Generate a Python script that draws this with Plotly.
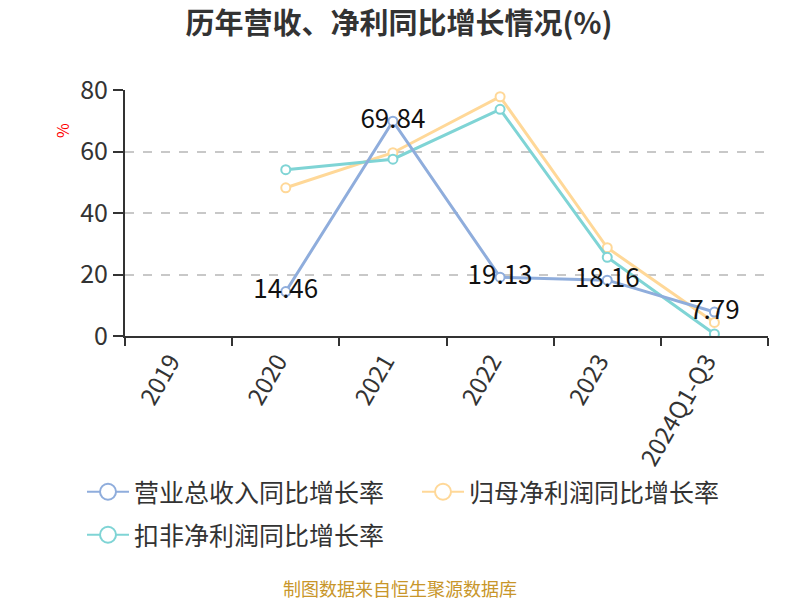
import plotly.graph_objects as go

categories = ["2019", "2020", "2021", "2022", "2023", "2024Q1-Q3"]
revenue = [None, 14.46, 69.84, 19.13, 18.16, 7.79]
net_profit = [None, 48.2, 59.6, 77.8, 28.7, 4.4]
deducted = [None, 54.1, 57.5, 73.7, 25.6, 0.65]
names = ["营业总收入同比增长率", "归母净利润同比增长率", "扣非净利润同比增长率"]
colors = ["#8FADDC", "#FFD898", "#7FD4D5"]

FONT = "Noto Sans CJK SC"
L, R, T, B = 125, 32, 90, 264
W, H = 800, 600
pw, ph = W - L - R, H - T - B


def px_x(x):
    return (x - L) / pw


def px_y(y):
    return (H - B - y) / ph


fig = go.Figure()

specs = [
    (names[1], net_profit, colors[1], False),
    (names[2], deducted, colors[2], False),
    (names[0], revenue, colors[0], True),
]
for name, vals, col, labels in specs:
    fig.add_trace(go.Scatter(
        x=categories, y=vals, name=name, showlegend=False,
        mode="lines+markers+text" if labels else "lines+markers",
        text=[("%.2f" % v) if v is not None else "" for v in vals] if labels else None,
        textposition="middle center",
        textfont=dict(size=26, color="#111", family=FONT),
        line=dict(color=col, width=3),
        marker=dict(size=9, color="white", line=dict(color=col, width=2)),
    ))

# legend-only entries with larger open circles
for name, col, leg, rank in [(names[0], colors[0], "legend", 1),
                             (names[1], colors[1], "legend", 2),
                             (names[2], colors[2], "legend2", 3)]:
    fig.add_trace(go.Scatter(
        x=[None], y=[None], name=name, mode="lines+markers",
        line=dict(color=col, width=2),
        marker=dict(size=20, color="white", line=dict(color=col, width=2)),
        legend=leg, legendrank=rank,
    ))

legfont = dict(size=25, color="#333", family=FONT)
fig.update_layout(
    width=W, height=H,
    margin=dict(l=L, r=R, t=T, b=B),
    paper_bgcolor="white", plot_bgcolor="white",
    font=dict(family=FONT, color="#333"),
    title=dict(text="<b>历年营收、净利同比增长情况(%)</b>", x=px_x(399), xanchor="center",
               xref="paper", y=1 - 24 / H, yanchor="middle",
               font=dict(size=29, color="#333", family=FONT)),
    showlegend=True,
    legend=dict(orientation="h", x=px_x(82), xanchor="left", y=px_y(492), yanchor="middle",
                font=legfont, entrywidth=278, itemwidth=42, bgcolor="rgba(0,0,0,0)"),
    legend2=dict(orientation="h", x=px_x(82), xanchor="left", y=px_y(535), yanchor="middle",
                 font=legfont, entrywidth=278, itemwidth=42, bgcolor="rgba(0,0,0,0)"),
    xaxis=dict(type="category", categoryorder="array", categoryarray=categories,
               range=[-0.5, 5.5], tickson="boundaries", ticks="outside", ticklen=8,
               tickwidth=2, tickcolor="#333", showline=True, linecolor="#333", linewidth=2,
               tickangle=-60, tickfont=dict(size=24, color="#333", family=FONT),
               ticklabelshift=-8, showgrid=False, zeroline=False),
    yaxis=dict(range=[0, 80], dtick=20, ticks="outside", ticklen=10, tickwidth=2,
               tickcolor="#333", showline=True, linecolor="#333", linewidth=2,
               tickfont=dict(size=25, color="#333", family=FONT),
               showgrid=True, gridcolor="#c8c8c8", griddash="dash", gridwidth=1.5,
               zeroline=False),
    annotations=[
        dict(text="%", x=px_x(62), y=px_y(131), xref="paper", yref="paper", showarrow=False,
             xanchor="center", yanchor="middle",
             textangle=-90, font=dict(size=16, color="red", family=FONT)),
        dict(text="制图数据来自恒生聚源数据库", x=px_x(400), y=px_y(588), xref="paper",
             yref="paper", showarrow=False, xanchor="center", yanchor="middle",
             font=dict(size=18, color="#C8962A", family=FONT)),
    ],
)

fig.write_html("out.html")
